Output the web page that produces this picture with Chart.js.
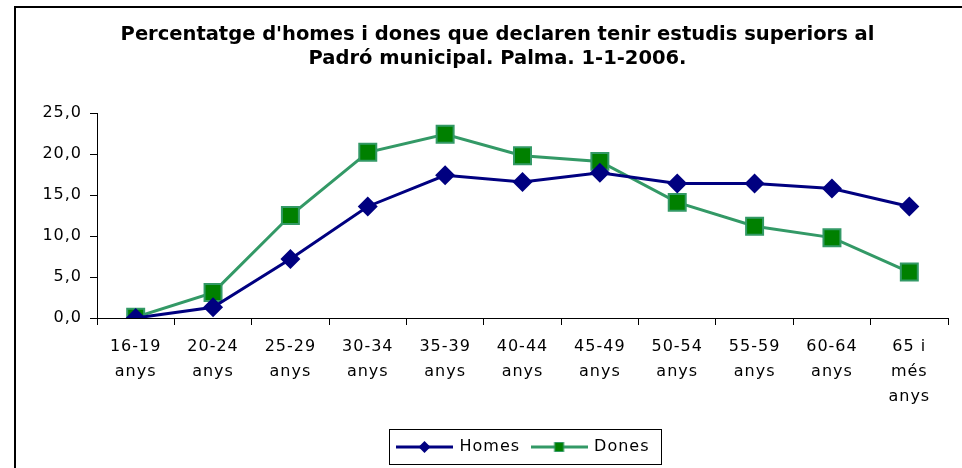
<!DOCTYPE html>
<html>
<head>
<meta charset="utf-8">
<script src="https://cdn.jsdelivr.net/npm/chart.js@4"></script>
<style>
  html, body { margin: 0; padding: 0; background: #fff; }
  #wrap { width: 962px; height: 468px; }
</style>
</head>
<body>
<div id="wrap"><canvas id="myChart" width="962" height="468"></canvas></div>
<script>
const categories = [
    ['16-19', 'anys'], ['20-24', 'anys'], ['25-29', 'anys'], ['30-34', 'anys'],
    ['35-39', 'anys'], ['40-44', 'anys'], ['45-49', 'anys'], ['50-54', 'anys'],
    ['55-59', 'anys'], ['60-64', 'anys'], ['65 i', 'més', 'anys']
];
const homes = [0.0, 1.3, 7.2, 13.6, 17.4, 16.6, 17.7, 16.4, 16.4, 15.8, 13.6];
const dones = [0.1, 3.1, 12.5, 20.2, 22.4, 19.8, 19.1, 14.1, 11.2, 9.8, 5.6];
const yTicks = [0, 5, 10, 15, 20, 25];
const titleLines = [
    "Percentatge d'homes i dones que declaren tenir estudis superiors al",
    "Padró municipal. Palma. 1-1-2006."
];

const navy = '#000080';
const greenLine = '#339966';
const greenFill = '#008000';
const spacing = '1px';

// little legend markers: a line with the point in the middle
function legendMarker(kind) {
    const c = document.createElement('canvas');
    c.width = 57;
    c.height = 16;
    const g = c.getContext('2d');
    g.lineWidth = 3;
    g.strokeStyle = kind === 'homes' ? navy : greenLine;
    g.beginPath();
    g.moveTo(0, 8);
    g.lineTo(57, 8);
    g.stroke();
    if (kind === 'homes') {
        g.fillStyle = navy;
        g.beginPath();
        g.moveTo(28.5, 2);
        g.lineTo(34.5, 8);
        g.lineTo(28.5, 14);
        g.lineTo(22.5, 8);
        g.closePath();
        g.fill();
    } else {
        g.fillStyle = greenFill;
        g.fillRect(24, 3.5, 9, 9);
        g.lineWidth = 1;
        g.strokeStyle = greenLine;
        g.strokeRect(24, 3.5, 9, 9);
    }
    return c;
}

const framePlugin = {
    id: 'frame',
    afterInit(chart) {
        // labels in the original are rather wide
        chart.ctx.letterSpacing = spacing;
        const title = chart.titleBlock;
        const origDraw = title.draw.bind(title);
        title.draw = function () {
            chart.ctx.letterSpacing = '0px';
            origDraw();
            chart.ctx.letterSpacing = spacing;
        };
    },
    beforeDraw(chart) {
        const ctx = chart.ctx;
        ctx.save();
        ctx.strokeStyle = '#000';
        ctx.lineWidth = 2;
        ctx.beginPath();
        ctx.moveTo(15, chart.height);
        ctx.lineTo(15, 7);
        ctx.lineTo(chart.width, 7);
        ctx.stroke();
        ctx.restore();
    },
    afterLayout(chart) {
        // legend and title sit a bit right of centre in the original
        chart.legend.left += 45;
        chart.legend.right += 45;
        chart.titleBlock.left += 19;
        chart.titleBlock.right += 19;
    },
    afterDraw(chart) {
        const boxes = chart.legend.legendHitBoxes;
        if (!boxes || !boxes.length) return;
        const first = boxes[0];
        const last = boxes[boxes.length - 1];
        const cy = first.top + first.height / 2;
        const ctx = chart.ctx;
        ctx.save();
        ctx.strokeStyle = '#000';
        ctx.lineWidth = 1;
        ctx.strokeRect(Math.round(first.left - 8) + 0.5, Math.round(cy - 18) + 0.5,
            Math.round(last.left + last.width - first.left + 20), 35);
        ctx.restore();
    }
};

function displayGraph() {
    const ctx = document.getElementById('myChart').getContext('2d');
    new Chart(ctx, {
        type: 'line',
        data: {
            labels: categories,
            datasets: [{
                label: 'Homes',
                data: homes,
                borderColor: navy,
                backgroundColor: navy,
                borderWidth: 3,
                pointStyle: 'rectRot',
                pointRadius: 10,
                pointBorderWidth: 0,
                pointBackgroundColor: navy,
                tension: 0
            }, {
                label: 'Dones',
                data: dones,
                borderColor: greenLine,
                backgroundColor: greenFill,
                borderWidth: 3,
                pointStyle: 'rect',
                pointRadius: 12,
                pointBorderWidth: 2,
                pointBorderColor: greenLine,
                pointBackgroundColor: greenFill,
                tension: 0
            }]
        },
        options: {
            responsive: false,
            animation: false,
            layout: { padding: { left: 0, right: 5, top: 0, bottom: 3 } },
            plugins: {
                title: {
                    display: true,
                    text: titleLines,
                    color: '#000',
                    font: { family: 'DejaVu Sans', size: 19.5, weight: 'bold', lineHeight: 24 / 19.5 },
                    padding: { top: 23, bottom: 42 }
                },
                legend: {
                    position: 'bottom',
                    labels: {
                        color: '#000',
                        font: { family: 'DejaVu Sans', size: 16 },
                        usePointStyle: true,
                        pointStyleWidth: 54,
                        padding: 12,
                        generateLabels(chart) {
                            const items = Chart.defaults.plugins.legend.labels.generateLabels(chart);
                            items.forEach((it, i) => {
                                it.pointStyle = legendMarker(i === 0 ? 'homes' : 'dones');
                            });
                            return items;
                        }
                    }
                },
                tooltip: { enabled: false }
            },
            scales: {
                x: {
                    offset: true,
                    grid: { offset: true, drawOnChartArea: false, drawTicks: true, tickLength: 7, color: '#000' },
                    border: { display: true, color: '#000', width: 1 },
                    ticks: {
                        color: '#000',
                        padding: 9,
                        maxRotation: 0,
                        autoSkip: false,
                        font: { family: 'DejaVu Sans', size: 16, lineHeight: 25 / 16 }
                    },
                    afterFit(scale) {
                        scale.height = 109;
                        scale.paddingLeft = 0;
                        scale.paddingRight = 0;
                    }
                },
                y: {
                    min: 0,
                    max: 25,
                    afterBuildTicks(scale) { scale.ticks = yTicks.map(v => ({ value: v })); },
                    grid: { drawOnChartArea: false, drawTicks: true, tickLength: 7, color: '#000' },
                    border: { display: true, color: '#000', width: 1 },
                    ticks: {
                        color: '#000',
                        padding: 8,
                        font: { family: 'DejaVu Sans', size: 16 },
                        callback: v => v.toFixed(1).replace('.', ',')
                    },
                    afterFit(scale) { scale.width = 97; }
                }
            }
        },
        plugins: [framePlugin]
    });
}

displayGraph();
</script>
</body>
</html>
